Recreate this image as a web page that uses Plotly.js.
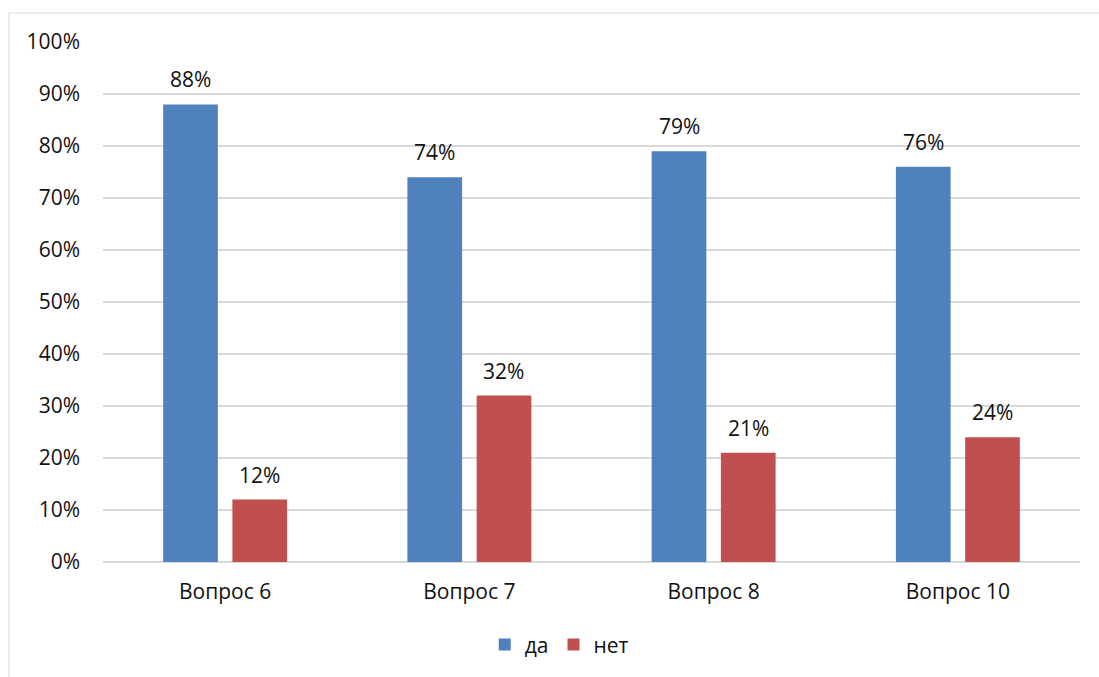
<!DOCTYPE html>
<html>
<head>
<meta charset="utf-8">
<script src="https://cdn.plot.ly/plotly-3.0.1.min.js"></script>
<style>html,body{margin:0;padding:0;background:#fff;}#chart{width:1099px;height:677px;}</style>
</head>
<body>
<div id="chart"></div>
<script>
const categories = ["Вопрос 6", "Вопрос 7", "Вопрос 8", "Вопрос 10"];
const seriesNames = ["да", "нет"];
const daValues = [0.88, 0.74, 0.79, 0.76];
const netValues = [0.12, 0.32, 0.21, 0.24];
const yTickVals = [0, 0.1, 0.2, 0.3, 0.4, 0.5, 0.6, 0.7, 0.8, 0.9, 1.0];

const FONT = "Open Sans, Noto Sans, sans-serif";
const TXT = "#111111";
const colors = ["#4F81BD", "#C0504D"];
const series = [daValues, netValues];

const traces = series.map((vals, i) => ({
  type: "bar",
  name: seriesNames[i],
  x: categories,
  y: vals,
  marker: {color: colors[i]},
  hoverinfo: "skip"
}));

const shifts = [-34.5, 34.5];
const annotations = [];
series.forEach((vals, i) => {
  vals.forEach((v, j) => {
    annotations.push({
      x: categories[j], y: v, xref: "x", yref: "y",
      text: Math.round(v * 100) + "%",
      showarrow: false, yanchor: "bottom", xanchor: "center",
      xshift: shifts[i], yshift: 9,
      font: {family: FONT, size: 21, color: TXT}
    });
  });
});

const layout = {
  width: 1099, height: 677,
  margin: {l: 103, r: 19, t: 42, b: 112, pad: 0},
  paper_bgcolor: "#ffffff", plot_bgcolor: "#ffffff",
  font: {family: FONT, size: 21, color: TXT},
  barmode: "group",
  bargap: 0.433,
  bargroupgap: 0.21,
  showlegend: true,
  legend: {orientation: "h", x: 0.467, xanchor: "center", y: -0.12, yanchor: "top",
           font: {family: FONT, size: 21, color: TXT}, itemwidth: 30, traceorder: "normal"},
  xaxis: {
    type: "category", showgrid: false, zeroline: false, showline: false,
    ticks: "", ticklabelstandoff: 15, automargin: false,
    tickfont: {family: FONT, size: 21, color: TXT}
  },
  yaxis: {
    range: [0, 1], tickvals: yTickVals, tickformat: ".0%",
    showgrid: true, gridcolor: "#d9d9d9", gridwidth: 1.5,
    zeroline: true, zerolinecolor: "#d9d9d9", zerolinewidth: 1.5,
    showline: false, ticks: "", ticklabelstandoff: 22, automargin: false,
    tickfont: {family: FONT, size: 21, color: TXT}
  },
  annotations: annotations,
  shapes: [{
    type: "rect", xref: "paper", yref: "paper", layer: "below",
    x0: -0.0962, x1: 1.2, y0: -0.4, y1: 1.0557,
    line: {color: "#d9d9d9", width: 1}, fillcolor: "rgba(0,0,0,0)"
  }]
};

Plotly.newPlot("chart", traces, layout, {displayModeBar: false, staticPlot: true});
</script>
</body>
</html>
